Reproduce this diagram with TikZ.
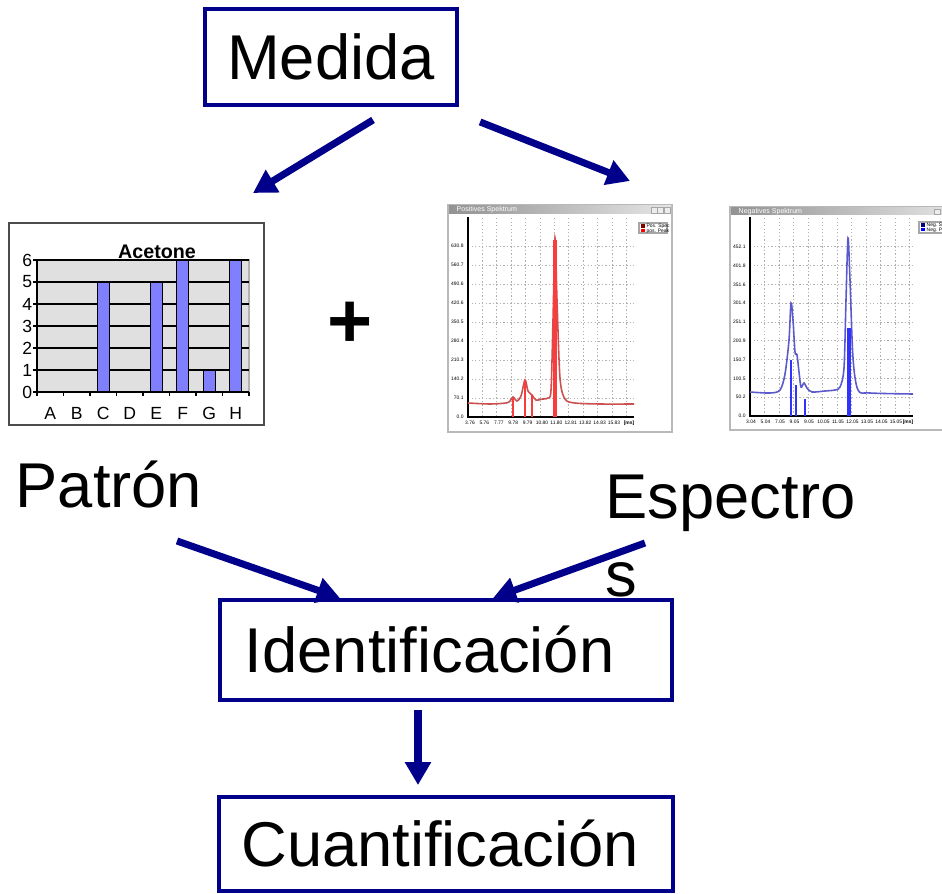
\documentclass[tikz,border=0pt]{standalone}
\usepackage{fontspec}
\setmainfont{Liberation Sans}
\usetikzlibrary{arrows.meta}

\definecolor{navyline}{RGB}{0,0,139}
\definecolor{barblue}{RGB}{128,128,255}
\definecolor{plotgray}{RGB}{224,224,224}
\definecolor{specred}{RGB}{205,80,80}
\definecolor{peakred}{RGB}{250,60,60}
\definecolor{specblue}{RGB}{90,90,205}
\definecolor{peakblue}{RGB}{50,50,255}

\newcommand{\bigfont}{\fontsize{18}{22}\selectfont}
\newcommand{\chartfont}{\fontsize{5}{6}\selectfont}
\newcommand{\specfont}{\fontsize{1.4}{1.7}\selectfont}

\begin{document}
\begin{tikzpicture}[x=0.01cm,y=-0.01cm,>={Triangle[length=0.23cm,width=0.25cm]},
  box/.style={draw=navyline,line width=1.1pt,font=\bigfont},
  flow/.style={->,draw=navyline,line width=2pt},
  grid line/.style={gray!60,dash pattern=on 0.4pt off 0.6pt,line width=0.2pt},
  win/.style={draw=gray!55,fill=white,line width=0.4pt}]
\useasboundingbox (0,0) rectangle (942,894);

% boxes and labels
\node[box,minimum width=2.52cm,minimum height=0.96cm] (medida) at (331,57) {Medida};
\node[box,text width=4.02cm,align=left,inner xsep=0.25cm,minimum height=1.0cm] (ident) at (446,650) {Identificación};
\node[box,text width=4.09cm,align=left,inner xsep=0.22cm,minimum height=0.94cm] (cuant) at (446,844) {Cuantificación};
\node[anchor=base west,font=\bigfont,inner sep=0] (patron) at (15,507) {Patrón};
\node[anchor=base west,font=\bigfont,inner sep=0,align=left] (espectros) at (605,596) {Espectro\\s};
\node[font=\fontsize{22}{24}\selectfont\bfseries] (plus) at (350,325) {+};

% bar chart (Acetone)
\draw[black!70,fill=white,line width=0.4pt] (9,223) rectangle (264,425);
\draw[gray!60,fill=plotgray,line width=0.3pt] (37,260) rectangle (249,392);
\foreach \v in {0,...,6} {
  \draw[black,line width=0.4pt] (33,392-22*\v) -- (249,392-22*\v);
  \node[font=\chartfont,anchor=east,inner sep=0.3pt] at (34,392-22*\v) {\v};
}
\draw[black,line width=0.4pt] (37,260) -- (37,396);
\foreach \k in {1,...,8}
  \draw[black,line width=0.4pt] ({37+26.5*\k},392) -- ({37+26.5*\k},396);
\foreach \c [count=\i from 0] in {A,B,C,D,E,F,G,H}
  \node[font=\chartfont,inner sep=0] at ({37+26.5*(\i+0.5)},413) {\c};
\foreach \i/\h in {2/5,4/5,5/6,6/1,7/6}
  \draw[black,fill=barblue,line width=0.4pt] ({37+26.5*(\i+0.5)-6},392) rectangle ({37+26.5*(\i+0.5)+6},392-22*\h);
\node[font=\fontsize{5.6}{6}\selectfont\bfseries,inner sep=0] (acetone) at (157,252) {Acetone};

% positive spectrum window
\draw[win] (448,205) rectangle (672,432);
\shade[left color=gray!85,right color=gray!20] (449,206) rectangle (671,214);
\node[font=\fontsize{2}{2.4}\selectfont,text=white,anchor=west,inner sep=0] at (456,210) {Positives Spektrum};
\foreach \bx in {651,657,664}
  \draw[gray!70,fill=gray!15,line width=0.2pt] (\bx,207) rectangle ++(6,6);
\foreach \k in {1,...,11}
  \draw[grid line] ({468+14.4*\k},218) -- ({468+14.4*\k},417);
\foreach \lab [count=\k] in {70.1,140.2,210.3,280.4,350.5,420.6,490.6,560.7,630.8} {
  \draw[grid line] (468,417.3-19*\k) -- (634,417.3-19*\k);
  \node[font=\specfont,anchor=east,inner sep=0.5pt] at (466,417.3-19*\k) {\lab};
}
\node[font=\specfont,anchor=east,inner sep=0.5pt] at (466,417) {0.0};
\foreach \lab [count=\k from 0] in {3.76,5.76,7.77,9.78,9.79,10.80,11.80,12.81,13.82,14.83,15.83}
  \node[font=\specfont,inner sep=0] at ({470+14.4*\k},423) {\lab};
\node[font=\specfont\bfseries,inner sep=0] at (629,423) {[ms]};
\draw[black,line width=0.3pt] (468,217) -- (468,417) -- (634,417);
\draw[specred,line width=0.45pt] plot[smooth,tension=0.5] coordinates {(468,403) (490,404) (506,403) (510,401) (513,397) (517,401) (521,396) (525,380) (528,391) (532,395) (536,400) (543,399) (548,398) (551,390) (553,320) (555,238) (557,300) (560,378) (565,399) (575,403) (600,404) (634,404)};
\foreach \sx/\sy in {513/398,525/380,532/395}
  \draw[peakred,line width=0.7pt] (\sx,417) -- (\sx,\sy);
\draw[peakred,line width=0.9pt] (555,417) -- (555,240);
\draw[gray!70,fill=white,line width=0.3pt] (639,223) rectangle (667,233);
\fill[red!50!black] (641,224.5) rectangle ++(3.5,3.5);
\fill[red] (641,229) rectangle ++(3.5,3.5);
\node[font=\specfont,anchor=west,inner sep=0] at (646,226.3) {Pos. Spec};
\node[font=\specfont,anchor=west,inner sep=0] at (646,230.8) {pos. Peak};

% negative spectrum window (cut at the right edge)
\begin{scope}
\clip (0,0) rectangle (942,894);
\draw[win] (730,207) rectangle (960,430);
\shade[left color=gray!85,right color=gray!20] (731,208) rectangle (959,215);
\node[font=\fontsize{2}{2.4}\selectfont,text=white,anchor=west,inner sep=0] at (738,211.5) {Negatives Spektrum};
\draw[gray!70,fill=gray!15,line width=0.2pt] (934,209) rectangle ++(6,5);
\foreach \k in {1,...,11}
  \draw[grid line] ({750+14.5*\k},218) -- ({750+14.5*\k},416);
\foreach \lab [count=\k] in {50.2,100.5,150.7,200.9,251.1,301.4,351.6,401.8,452.1} {
  \draw[grid line] (750,416-18.8*\k) -- (913,416-18.8*\k);
  \node[font=\specfont,anchor=east,inner sep=0.5pt] at (748,416-18.8*\k) {\lab};
}
\node[font=\specfont,anchor=east,inner sep=0.5pt] at (748,416) {0.0};
\foreach \lab [count=\k from 0] in {3.04,5.04,7.05,9.05,9.05,10.05,11.05,12.05,13.05,14.05,15.05}
  \node[font=\specfont,inner sep=0] at ({751+14.5*\k},422) {\lab};
\node[font=\specfont\bfseries,inner sep=0] at (908,422) {[ms]};
\draw[black,line width=0.3pt] (750,217) -- (750,416) -- (913,416);
\draw[specblue,line width=0.45pt] plot[smooth,tension=0.5] coordinates {(750,392) (770,393) (780,390) (785,374) (789,340) (791,303) (793,320) (795,352) (797,355) (799,372) (801,387) (804,383) (807,388) (812,392) (825,391) (835,390) (840,387) (844,368) (846,300) (848,238) (850,280) (853,358) (858,390) (870,393) (913,394)};
\foreach \sx/\sy in {796/385,805/399}
  \draw[peakblue,line width=0.7pt] (\sx,416) -- (\sx,\sy);
\draw[peakblue,line width=0.8pt] (791,416) -- (791,360);
\draw[peakblue,line width=0.9pt] (849,416) -- (849,328);
\draw[gray!70,fill=white,line width=0.3pt] (919,222) rectangle (960,233);
\fill[blue!50!black] (921,223.5) rectangle ++(3.5,3.5);
\fill[blue] (921,228) rectangle ++(3.5,3.5);
\node[font=\specfont,anchor=west,inner sep=0] at (926,225.3) {Neg. Spec};
\node[font=\specfont,anchor=west,inner sep=0] at (926,229.8) {Neg. Peak};
\end{scope}

% arrows
\coordinate (chartin) at (253,193);
\coordinate (specin) at (630,181);
\coordinate (patronout) at (177,541);
\coordinate (espout) at (645,543);
\draw[flow] ([xshift=0.42cm,yshift=-0.13cm]medida.south) -- (chartin);
\draw[flow] ([xshift=1.49cm,yshift=-0.15cm]medida.south) -- (specin);
\draw[flow] (patronout) -- ([xshift=-1.06cm]ident.north);
\draw[flow] (espout) -- ([xshift=0.47cm]ident.north);
\draw[flow,shorten <=0.08cm,shorten >=0.1cm] ([xshift=-0.28cm]ident.south) -- ([xshift=-0.28cm]cuant.north);
\end{tikzpicture}
\end{document}
